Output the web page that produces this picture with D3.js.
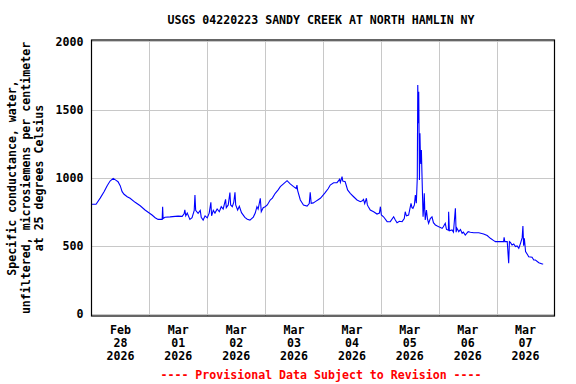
<!DOCTYPE html>
<html>
<head>
<meta charset="utf-8">
<script src="https://cdn.jsdelivr.net/npm/d3@7"></script>
<style>
  html, body { margin: 0; padding: 0; background: #ffffff; }
  svg { display: block; }
  text { font-family: "DejaVu Sans Mono", "Liberation Mono", monospace; font-weight: bold; }
</style>
</head>
<body>
<svg id="chart" width="576" height="384"></svg>
<script>
// ---- Data (hours after 2026-02-28 00:00, specific conductance µS/cm) ----
const chartTitle = "USGS 04220223 SANDY CREEK AT NORTH HAMLIN NY";
const yTitleLines = ["Specific conductance, water,", "unfiltered, microsiemens per centimeter", "at 25 degrees Celsius"];
const footnote = "---- Provisional Data Subject to Revision ----";
const yTicks = [0, 500, 1000, 1500, 2000];
const dayLabels = [["Feb", "28", "2026"], ["Mar", "01", "2026"], ["Mar", "02", "2026"], ["Mar", "03", "2026"],
                   ["Mar", "04", "2026"], ["Mar", "05", "2026"], ["Mar", "06", "2026"], ["Mar", "07", "2026"]];
const hours = [
  0, 1.9, 3.6, 5.2, 6.5, 7.7, 9.0, 10.2, 11.0, 11.9, 12.7, 13.5, 14.8, 16.0, 18.1, 20.2, 22.2, 23.5, 25.1, 26.4,
  27.6, 29.3, 29.5, 29.7, 30.5, 32.6, 34.7, 35.9, 37.6, 38.4, 38.7, 39.1, 39.7, 40.8, 41.7, 42.6, 42.9, 43.2, 44.2, 45.1,
  45.5, 46.3, 47.1, 48.0, 48.8, 49.5, 49.8, 50.5, 51.2, 52.1, 53.0, 53.8, 54.6, 55.6, 55.9, 56.7, 57.4, 57.7, 58.4, 59.0,
  59.5, 59.8, 60.6, 61.3, 62.2, 63.6, 64.6, 65.7, 67.1, 67.9, 68.6, 69.1, 70.0, 70.4, 71.2, 72.0, 72.9, 74.1, 75.0, 76.2,
  77.4, 78.3, 79.6, 81.1, 82.4, 83.8, 84.9, 85.2, 85.5, 86.6, 87.9, 89.4, 90.3, 90.7, 91.1, 92.0, 92.8, 94.0, 94.9, 95.7,
  96.9, 98.2, 99.0, 100.4, 101.8, 102.9, 103.2, 103.9, 104.2, 105.2, 106.2, 107.3, 108.7, 110.1, 111.5, 112.3, 112.8, 113.3, 114.0, 114.4,
  114.8, 115.6, 117.0, 118.4, 119.4, 119.8, 120.2, 121.1, 122.6, 123.9, 125.3, 126.0, 126.7, 127.7, 128.8, 129.7, 130.1, 130.6, 131.5, 132.5,
  132.9, 133.3, 133.9, 134.3, 134.7, 135.1, 135.3, 135.5, 135.7, 136.0, 136.2, 136.4, 136.6, 136.8, 137.1, 137.5, 137.8, 138.0, 138.2, 138.4,
  138.9, 139.3, 139.8, 140.5, 141.2, 141.8, 142.6, 143.4, 144.0, 144.7, 145.4, 145.9, 146.7, 147.2, 148.0, 148.1, 148.4, 149.5, 150.1, 150.9,
  151.2, 151.5, 152.3, 153.0, 153.7, 154.2, 155.0, 156.2, 157.1, 158.5, 160.6, 162.6, 164.1, 165.4, 166.8, 167.5, 169.6, 170.9, 171.1, 171.4,
  172.4, 173.0, 173.3, 173.7, 174.4, 175.1, 175.8, 176.5, 177.2, 177.9, 178.6, 178.9, 179.2, 179.5, 180.0, 180.9, 181.3, 182.7, 183.4, 184.1,
  185.5, 186.9, 187.3
];
const conductance = [
  805, 805, 850, 897, 941, 975, 995, 980, 970, 941, 897, 878, 860, 849, 819, 794, 763, 746, 726, 706,
  694, 694, 787, 700, 709, 712, 716, 718, 716, 735, 763, 720, 740, 694, 707, 760, 873, 760, 738, 760,
  710, 689, 720, 705, 740, 819, 720, 760, 740, 770, 750, 787, 770, 841, 780, 800, 890, 800, 787, 820,
  892, 800, 763, 790, 743, 709, 695, 689, 711, 740, 787, 770, 849, 750, 780, 787, 800, 836, 850, 885,
  910, 934, 954, 978, 954, 934, 920, 946, 905, 836, 799, 792, 810, 892, 812, 815, 824, 838, 849, 865,
  890, 920, 946, 963, 963, 988, 965, 1007, 975, 970, 910, 885, 860, 836, 824, 830, 841, 810, 849, 800,
  787, 763, 750, 733, 740, 787, 726, 713, 677, 677, 713, 690, 669, 680, 677, 700, 750, 720, 726, 812,
  780, 775, 800, 873, 812, 1000, 1680, 1400, 1631, 983, 1325, 1154, 1100, 1203, 983, 713, 800, 885, 760, 689,
  763, 700, 665, 700, 713, 670, 653, 645, 640, 635, 628, 640, 665, 620, 615, 750, 610, 616, 600, 775,
  600, 630, 604, 620, 592, 600, 579, 604, 600, 596, 596, 587, 575, 555, 538, 531, 531, 531, 562, 531,
  531, 372, 531, 525, 506, 513, 494, 499, 482, 518, 560, 645, 500, 555, 457, 433, 420, 416, 396, 396,
  376, 366, 366
];

// ---- Layout ----
const svg = d3.select("#chart");
const margin = { left: 91.5, right: 554.5, top: 40, bottom: 316 };
const start = new Date(2026, 1, 28, 0, 0);
const end = new Date(2026, 2, 8, 0, 0);

const x = d3.scaleTime().domain([start, end]).range([margin.left, margin.right]);
const y = d3.scaleLinear().domain([-15, 2010]).range([margin.bottom, margin.top]);

const data = hours.map((h, i) => ({ t: new Date(start.getTime() + h * 3600e3), v: conductance[i] }));

// grid
const midnights = d3.timeDay.range(d3.timeDay.offset(start, 1), end);
svg.append("g").selectAll("line").data(midnights).join("line")
  .attr("x1", d => Math.round(x(d)) + 0.5).attr("x2", d => Math.round(x(d)) + 0.5)
  .attr("y1", margin.top).attr("y2", margin.bottom)
  .attr("stroke", "#c8c8c8").attr("stroke-width", 1);
svg.append("g").selectAll("line").data(yTicks).join("line")
  .attr("x1", margin.left).attr("x2", margin.right)
  .attr("y1", d => Math.round(y(d)) + 0.5).attr("y2", d => Math.round(y(d)) + 0.5)
  .attr("stroke", "#c8c8c8").attr("stroke-width", 1);

// line
const line = d3.line().x(d => x(d.t)).y(d => y(d.v));
svg.append("path").datum(data)
  .attr("d", line).attr("fill", "none").attr("stroke", "#0000ff").attr("stroke-width", 1.1)
  .attr("stroke-linejoin", "miter");

// frame
svg.append("rect")
  .attr("x", margin.left).attr("y", margin.top)
  .attr("width", margin.right - margin.left).attr("height", margin.bottom - margin.top)
  .attr("fill", "none").attr("stroke", "#000").attr("stroke-width", 1.2);

// y tick labels
const yAxis = d3.axisLeft(y).tickValues(yTicks).tickSize(0).tickPadding(8).tickFormat(d3.format("d"));
const ya = svg.append("g").attr("transform", `translate(${margin.left},0)`).call(yAxis);
ya.select(".domain").remove();
ya.selectAll("text").attr("font-size", "11.6px").attr("fill", "#000")
  .style("font-family", "'DejaVu Sans Mono', monospace").style("font-weight", "bold");

// x labels at noon of each day
const noons = d3.timeDay.range(start, end).map(d => d3.timeHour.offset(d, 12));
const xl = svg.append("g").selectAll("text").data(noons).join("text")
  .attr("x", d => x(d)).attr("y", 330)
  .attr("text-anchor", "middle").attr("font-size", "11.6px").attr("fill", "#000");
xl.each(function(d, i) {
  const t = d3.select(this);
  dayLabels[i].forEach((s, j) => {
    t.append("tspan").attr("x", x(d)).attr("y", 334 + j * 13).text(s);
  });
});

// title
svg.append("text").attr("x", 321).attr("y", 24).attr("text-anchor", "middle")
  .attr("font-size", "11.6px").attr("fill", "#000").text(chartTitle);

// y title
const yt = svg.append("text").attr("transform", "translate(0,178) rotate(-90)")
  .attr("text-anchor", "middle").attr("font-size", "11.6px").attr("fill", "#000");
yTitleLines.forEach((s, j) => {
  yt.append("tspan").attr("x", 0).attr("y", 16 + j * 13.5).text(s);
});

// footnote
svg.append("text").attr("x", 321).attr("y", 379).attr("text-anchor", "middle")
  .attr("font-size", "11.6px").attr("fill", "#ff0000").text(footnote);
</script>
</body>
</html>
